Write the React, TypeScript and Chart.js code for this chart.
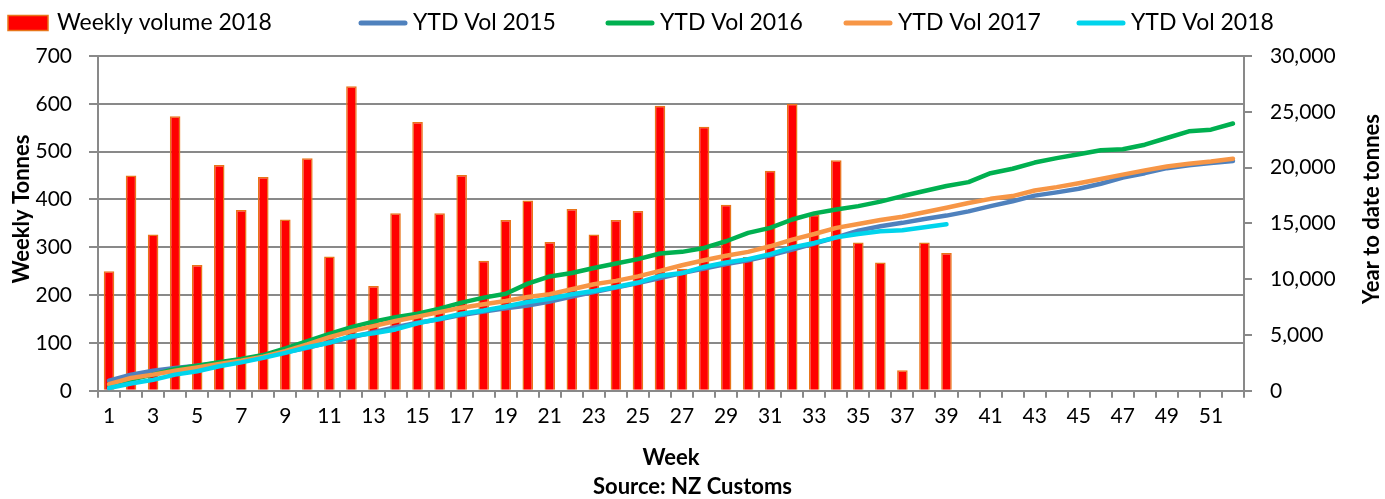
import React, { useEffect, useRef } from 'react';
import { Chart, registerables } from 'chart.js';

Chart.register(...registerables);

const weeks = ['1','2','3','4','5','6','7','8','9','10','11','12','13','14','15','16','17','18','19','20','21','22','23','24','25','26','27','28','29','30','31','32','33','34','35','36','37','38','39','40','41','42','43','44','45','46','47','48','49','50','51','52'];

const weekly2018 = [250,450,327,574,263,472,378,447,358,486,281,637,219,371,562,371,451,272,357,398,311,380,327,357,376,596,255,552,389,280,460,600,368,482,310,268,43,310,288];

const ytd2015 = [900,1450,1800,2050,2250,2500,2800,3100,3450,3850,4350,4800,5250,5700,6100,6400,6800,7100,7400,7650,8000,8450,8850,9250,9650,10100,10550,10950,11350,11700,12150,12650,13200,13750,14350,14750,15050,15400,15700,16080,16550,16980,17490,17780,18100,18550,19100,19500,19950,20200,20400,20600];

const ytd2016 = [500,1000,1450,1950,2250,2550,2850,3200,3800,4450,5100,5700,6200,6600,6900,7350,7900,8350,8700,9600,10250,10550,11000,11400,11800,12300,12450,12800,13400,14150,14600,15350,15900,16250,16550,16950,17450,17900,18350,18700,19500,19900,20450,20850,21200,21550,21650,22050,22650,23250,23400,23950];

const ytd2017 = [600,1150,1450,1800,2100,2400,2700,3050,3550,4150,4800,5350,5800,6250,6650,7050,7450,7750,8050,8400,8650,9100,9550,9850,10250,10750,11250,11700,12100,12450,12950,13550,14050,14600,14950,15300,15600,16000,16400,16830,17200,17450,17950,18250,18600,18980,19370,19750,20100,20350,20550,20800];

const ytd2018 = [250,650,980,1450,1750,2200,2550,2950,3400,3900,4300,4900,5150,5500,6050,6450,6900,7200,7550,7950,8250,8650,8950,9300,9700,10300,10550,11100,11500,11800,12250,12850,13250,13750,14050,14300,14380,14650,14920];

const leftTitle = 'Weekly Tonnes';
const rightTitle = 'Year to date tonnes';

const FONT = 'Lato, "Noto Sans", sans-serif';
const GRID = '#898989';
const LEGEND_X = [8, 358, 605, 843, 1076];
const LEGEND_W = [40, 50, 50, 50, 50];
const LEGEND_GAP = [9, 5, 5, 5, 5];

const legendPlugin = {
  id: 'customLegend',
  afterDraw(chart: any) {
    const ctx = chart.ctx;
    const y = 23;
    ctx.save();
    ctx.font = `23px ${FONT}`;
    ctx.textBaseline = 'middle';
    ctx.textAlign = 'left';
    chart.data.datasets.forEach((ds: any, i: number) => {
      const x = LEGEND_X[i];
      const w = LEGEND_W[i];
      if (ds.type === 'line') {
        ctx.strokeStyle = ds.borderColor;
        ctx.lineWidth = 5;
        ctx.lineCap = 'round';
        ctx.beginPath();
        ctx.moveTo(x + 3, y);
        ctx.lineTo(x + w - 3, y);
        ctx.stroke();
      } else {
        ctx.fillStyle = ds.backgroundColor;
        ctx.fillRect(x, y - 7.5, w, 15);
        ctx.strokeStyle = ds.borderColor;
        ctx.lineWidth = 1.5;
        ctx.strokeRect(x, y - 7.5, w, 15);
      }
      ctx.fillStyle = '#000';
      ctx.fillText(ds.label, x + w + LEGEND_GAP[i], y);
    });
    ctx.restore();
  },
};

const axisTitlePlugin = {
  id: 'axisTitles',
  afterDraw(chart: any) {
    const ctx = chart.ctx;
    const cy = 209;
    ctx.save();
    ctx.font = `bold 22px ${FONT}`;
    ctx.fillStyle = '#000';
    ctx.textAlign = 'center';
    ctx.textBaseline = 'middle';
    [[22, leftTitle], [1372, rightTitle]].forEach(([x, t]) => {
      ctx.save();
      ctx.translate(x as number, cy);
      ctx.rotate(-Math.PI / 2);
      ctx.fillText(t as string, 0, 0);
      ctx.restore();
    });
    ctx.restore();
  },
};

export default function App() {
  const ref = useRef<HTMLCanvasElement | null>(null);

  useEffect(() => {
    document.body.style.margin = '0';
    if (!ref.current) return;
    const lineDs = (label: string, data: number[], color: string, order: number) => ({
      type: 'line' as const,
      label,
      data,
      yAxisID: 'y1',
      borderColor: color,
      backgroundColor: color,
      borderWidth: 4.5,
      pointRadius: 0,
      pointHoverRadius: 0,
      tension: 0,
      fill: false,
      borderCapStyle: 'round' as const,
      borderJoinStyle: 'round' as const,
      order,
    });
    const chart = new Chart(ref.current, {
      type: 'bar',
      data: {
        labels: weeks,
        datasets: [
          {
            label: 'Weekly volume 2018',
            data: weekly2018,
            yAxisID: 'y',
            backgroundColor: '#FF0000',
            borderColor: '#E8751A',
            borderWidth: 1.5,
            barPercentage: 0.48,
            categoryPercentage: 1,
            order: 10,
          } as any,
          lineDs('YTD Vol 2015', ytd2015, '#4F81BD', 4),
          lineDs('YTD Vol 2016', ytd2016, '#00B050', 3),
          lineDs('YTD Vol 2017', ytd2017, '#F79646', 2),
          lineDs('YTD Vol 2018', ytd2018, '#00D4EC', 1),
        ],
      },
      options: {
        responsive: false,
        animation: false,
        devicePixelRatio: 1,
        layout: { padding: { top: 56, left: 0, right: 0, bottom: 0 } },
        plugins: {
          legend: { display: false },
          tooltip: { enabled: false },
          title: {
            display: true,
            position: 'bottom',
            text: 'Source: NZ Customs',
            color: '#000',
            font: { family: FONT, size: 22, weight: 'bold', lineHeight: 1.1 },
            padding: { top: 5, bottom: 0 },
          },
        },
        scales: {
          x: {
            type: 'category',
            offset: true,
            grid: { display: true, drawOnChartArea: false, drawTicks: true, tickLength: 7, color: GRID, lineWidth: 2, offset: true },
            border: { display: true, color: GRID, width: 2 },
            ticks: {
              autoSkip: false,
              maxRotation: 0,
              minRotation: 0,
              padding: 6,
              color: '#000',
              font: { family: FONT, size: 21 },
              callback: (_v: any, i: number) => (i % 2 === 0 ? weeks[i] : ''),
            },
            title: {
              display: true,
              text: 'Week',
              color: '#000',
              font: { family: FONT, size: 22, weight: 'bold', lineHeight: 1.1 },
              padding: { top: 0, bottom: 0 },
            },
            afterFit: (s: any) => { s.height = 79; },
          },
          y: {
            position: 'left',
            min: 0,
            max: 700,
            ticks: { stepSize: 100, padding: 17, color: '#000', font: { family: FONT, size: 21 } },
            grid: { color: GRID, lineWidth: 2, tickLength: 9 },
            border: { display: true, color: GRID, width: 2 },
            afterFit: (s: any) => { s.width = 98; },
          },
          y1: {
            position: 'right',
            min: 0,
            max: 30000,
            ticks: {
              stepSize: 5000,
              padding: 18,
              color: '#000',
              font: { family: FONT, size: 21 },
              callback: (v: any) => Number(v).toLocaleString('en-US'),
            },
            grid: { drawOnChartArea: false, color: GRID, lineWidth: 2, tickLength: 8 },
            border: { display: true, color: GRID, width: 2 },
            afterFit: (s: any) => { s.width = 141; },
          },
        },
      } as any,
      plugins: [legendPlugin, axisTitlePlugin],
    });
    return () => chart.destroy();
  }, []);

  return (
    <div style={{ width: 1385, height: 499 }}>
      <canvas ref={ref} width={1385} height={499} style={{ display: 'block', width: 1385, height: 499 }} />
    </div>
  );
}
